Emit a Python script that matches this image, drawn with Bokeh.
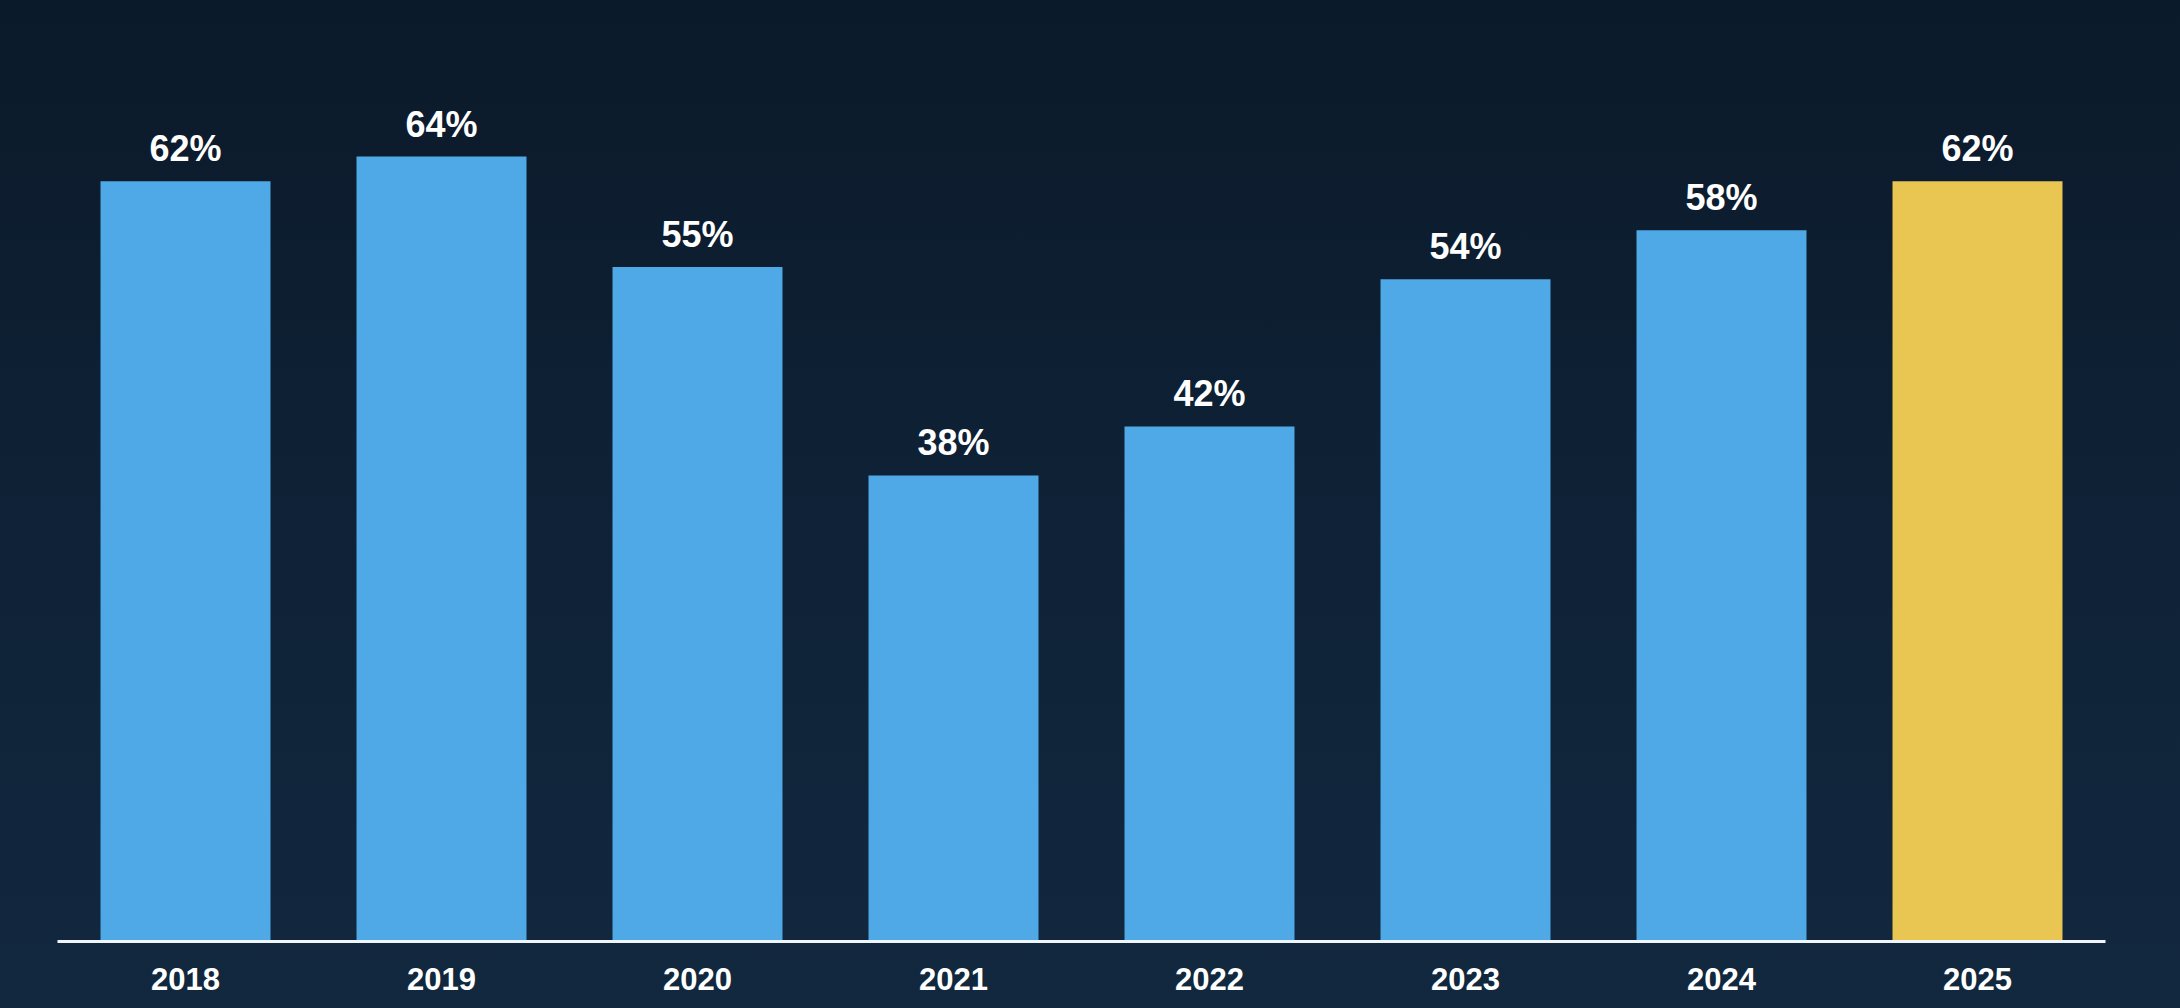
from bokeh.plotting import figure
from bokeh.models import ColumnDataSource, LabelSet, Range1d
from bokeh.core.properties import value
from bokeh.embed import file_html
from bokeh.resources import INLINE

# ---- data ----
years = ["2018", "2019", "2020", "2021", "2022", "2023", "2024", "2025"]
values = [62, 64, 55, 38, 42, 54, 58, 62]
labels = [f"{v}%" for v in values]
colors = ["#4ea9e6"] * 7 + ["#e9c552"]

src = ColumnDataSource(dict(years=years, values=values, labels=labels, colors=colors))

p = figure(
    x_range=years,
    y_range=Range1d(0, 72),
    width=2180,
    height=1008,
    output_backend="svg",
    toolbar_location=None,
    min_border_left=57,
    min_border_right=75,
    min_border_top=58,
    min_border_bottom=67,
)
p.x_range.range_padding = 0

p.vbar(x="years", top="values", width=0.664, fill_color="colors", line_color=None, source=src)

lbl = LabelSet(x="years", y="values", text="labels", source=src,
               text_align="center", text_baseline="alphabetic", y_offset=20,
               text_color="#ffffff", text_font=value("Liberation Sans"),
               text_font_style="bold", text_font_size="36px")
p.add_layout(lbl)

p.background_fill_alpha = 0
p.border_fill_alpha = 0
p.outline_line_color = None
p.xgrid.grid_line_color = None
p.ygrid.grid_line_color = None
p.yaxis.visible = False

ax = p.xaxis[0]
ax.axis_line_color = "#eef5fb"
ax.axis_line_width = 3
ax.major_tick_line_color = None
ax.minor_tick_line_color = None
ax.major_tick_out = 0
ax.major_tick_in = 0
ax.major_label_standoff = 26
ax.major_label_text_color = "#ffffff"
ax.major_label_text_font = "Liberation Sans"
ax.major_label_text_font_style = "bold"
ax.major_label_text_font_size = "31px"

html = file_html(p, INLINE, title="chart")
style = ("<style>html,body{margin:0;padding:0;overflow:hidden;}"
         "html{min-height:100%;background:linear-gradient(180deg,#0b1a2a 0%,#0f2237 55%,#12283f 100%) fixed;}"
         "body{background:transparent;}</style>")
html = html.replace("</head>", style + "</head>", 1)
open("out.html", "w").write(html)
